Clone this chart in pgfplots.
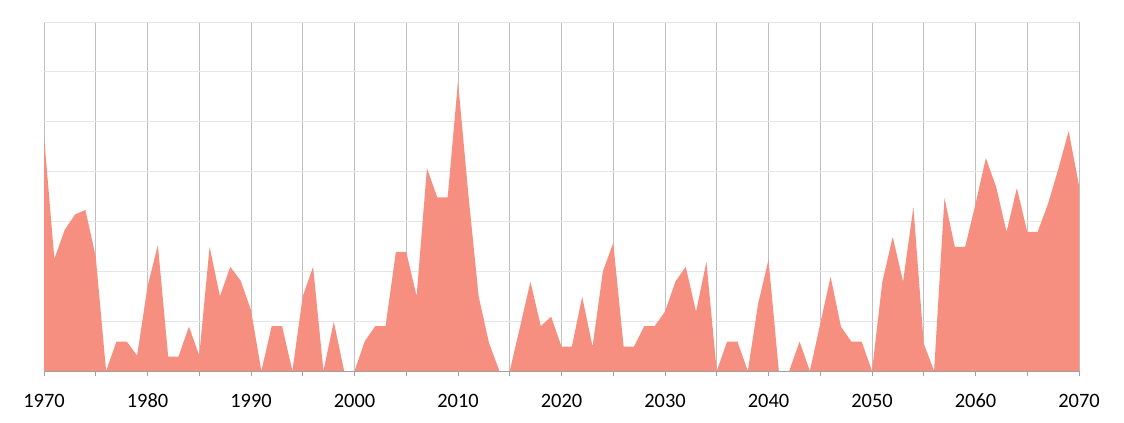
\documentclass[border=0pt]{standalone}
\usepackage{pgfplots}
\pgfplotsset{compat=1.18}
\usepackage{fontspec}
\setmainfont{Carlito}[Numbers=Lining]
\definecolor{areafill}{RGB}{246,143,128}
\definecolor{vgrid}{RGB}{191,191,191}
\definecolor{hgrid}{RGB}{230,230,230}
\definecolor{axisgray}{RGB}{160,160,160}

\begin{document}
\begin{tikzpicture}
\useasboundingbox (-44bp,-52bp) rectangle (1080bp,371bp);
\begin{axis}[
  at={(0,0)}, anchor=south west,
  scale only axis,
  width=1035bp, height=349bp,
  xmin=1970, xmax=2070,
  ymin=0, ymax=70,
  xtick={1970,1980,...,2070},
  minor xtick={1975,1985,...,2065},
  ytick={0,10,...,70},
  yticklabels={},
  xtick pos=bottom,
  tick align=outside,
  major tick length=5bp,
  minor tick length=5bp,
  every major x tick/.append style={axisgray, line width=0.8bp},
  every minor x tick/.append style={axisgray, line width=0.8bp},
  ytick style={draw=none},
  xmajorgrids, xminorgrids, ymajorgrids,
  major x grid style={vgrid, line width=0.8bp},
  minor x grid style={vgrid, line width=0.8bp},
  major y grid style={hgrid, line width=0.8bp},
  axis line style={draw=none},
  x tick label style={font=\fontsize{20.5}{24}\selectfont, text=black,
    anchor=north, text height=13bp, text depth=0bp, yshift=-15bp},
  /pgf/number format/assume math mode=true,
  /pgf/number format/1000 sep={},
]
\addplot[fill=areafill, draw=none] coordinates {
(1970,47.2) (1971,22.5) (1972,28.3) (1973,31.4) (1974,32.3) (1975,22.9)
(1976,0) (1977,5.9) (1978,5.9) (1979,3.1) (1980,16.9) (1981,25.3)
(1982,2.9) (1983,2.9) (1984,8.9) (1985,3.1) (1986,24.9) (1987,15.0)
(1988,20.9) (1989,18.1) (1990,12.2) (1991,0) (1992,9.0) (1993,9.0)
(1994,0) (1995,15.0) (1996,20.9) (1997,0) (1998,9.9) (1999,0)
(2000,0) (2001,6.0) (2002,9.0) (2003,9.0) (2004,23.9) (2005,23.9)
(2006,15.0) (2007,40.7) (2008,34.8) (2009,34.8) (2010,58.1) (2011,35.4)
(2012,14.9) (2013,5.6) (2014,0) (2015,0) (2016,8.9) (2017,17.9)
(2018,9.0) (2019,10.9) (2020,4.9) (2021,4.9) (2022,14.9) (2023,4.9)
(2024,20.0) (2025,25.7) (2026,4.9) (2027,4.9) (2028,9.0) (2029,9.0)
(2030,11.9) (2031,17.9) (2032,20.9) (2033,11.9) (2034,21.9) (2035,0)
(2036,5.9) (2037,5.9) (2038,0) (2039,13.5) (2040,22.3) (2041,0)
(2042,0) (2043,5.9) (2044,0) (2045,9.5) (2046,18.9) (2047,8.9)
(2048,5.9) (2049,5.9) (2050,0) (2051,17.9) (2052,26.9) (2053,17.9)
(2054,32.9) (2055,5.5) (2056,0) (2057,34.7) (2058,24.9) (2059,24.9)
(2060,33.5) (2061,42.7) (2062,36.9) (2063,27.9) (2064,36.7) (2065,27.9)
(2066,27.9) (2067,33.5) (2068,40.5) (2069,48.1) (2070,37.2)
} \closedcycle;
\draw[axisgray, line width=0.8bp] (axis cs:1970,0) -- (axis cs:2070,0);
\end{axis}
\end{tikzpicture}
\end{document}
